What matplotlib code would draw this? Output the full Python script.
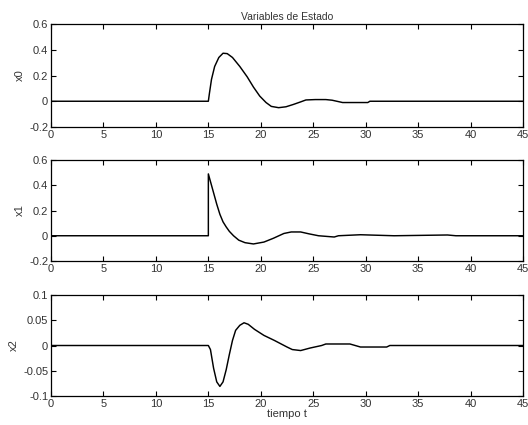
import matplotlib
matplotlib.use("Agg")
import matplotlib.pyplot as plt

# state variable x0
t_x0 = [0, 15, 15.1, 15.3, 15.6, 16.0, 16.4, 16.8, 17.3, 18.0, 18.7, 19.3, 19.9,
        20.5, 21.0, 21.7, 22.4, 23.1, 23.8, 24.3, 25.2, 26.2, 26.8, 27.8, 30.2, 30.4, 45]
x0 = [0, 0, 0.06, 0.17, 0.27, 0.34, 0.373, 0.37, 0.34, 0.27, 0.19, 0.11, 0.04,
      -0.01, -0.04, -0.05, -0.043, -0.025, -0.005, 0.01, 0.013, 0.013, 0.008, -0.01, -0.01, 0, 0]

# state variable x1
t_x1 = [0, 15, 15.0, 15.2, 15.5, 15.8, 16.1, 16.4, 16.7, 17.0, 17.4, 17.9, 18.5, 19.3,
        20.3, 21.2, 22.2, 22.9, 23.8, 24.6, 25.5, 27.0, 27.4, 29.5, 32.7, 37.8, 38.6, 45]
x1 = [0, 0, 0.49, 0.43, 0.34, 0.25, 0.17, 0.11, 0.07, 0.035, 0.0, -0.035, -0.055, -0.065,
      -0.05, -0.02, 0.018, 0.03, 0.03, 0.015, 0.0, -0.01, 0.0, 0.008, 0.0, 0.006, 0.0, 0]

# state variable x2
t_x2 = [0, 15, 15.2, 15.5, 15.8, 16.1, 16.4, 16.7, 17.0, 17.3, 17.6, 18.0, 18.4, 18.8,
        19.4, 20.3, 21.3, 22.5, 23.0, 23.8, 24.7, 25.8, 26.2, 28.5, 29.5, 32.0, 32.3, 45]
x2 = [0, 0, -0.008, -0.045, -0.072, -0.081, -0.072, -0.048, -0.018, 0.01, 0.03, 0.04, 0.045, 0.042,
      0.032, 0.02, 0.01, -0.003, -0.008, -0.01, -0.005, 0.0, 0.003, 0.003, -0.003, -0.003, 0.0, 0]

series = [(t_x0, x0, "x0", (-0.2, 0.6), [-0.2, 0, 0.2, 0.4, 0.6], ["-0.2", "0", "0.2", "0.4", "0.6"]),
          (t_x1, x1, "x1", (-0.2, 0.6), [-0.2, 0, 0.2, 0.4, 0.6], ["-0.2", "0", "0.2", "0.4", "0.6"]),
          (t_x2, x2, "x2", (-0.1, 0.1), [-0.1, -0.05, 0, 0.05, 0.1], ["-0.1", "-0.05", "0", "0.05", "0.1"])]
xticks = [0, 5, 10, 15, 20, 25, 30, 35, 40, 45]

plt.rcParams['font.family'] = ['Liberation Sans', 'DejaVu Sans']
plt.rcParams['font.size'] = 8
txt = '#333333'

fig = plt.figure(figsize=(5.28, 4.25), dpi=100)
boxes = [[0.0966, 0.7012, 0.894, 0.2423],
         [0.0966, 0.3859, 0.894, 0.2376],
         [0.0966, 0.0682, 0.894, 0.2377]]

for box, (t, y, name, ylim, yt, ytl) in zip(boxes, series):
    ax = fig.add_axes(box)
    ax.plot(t, y, color='black', linewidth=1.05)
    ax.set_xlim(0, 45)
    ax.set_ylim(*ylim)
    ax.set_xticks(xticks)
    ax.set_yticks(yt)
    ax.set_yticklabels(ytl)
    ax.tick_params(direction='in', top=True, right=True, length=3.5, width=0.8,
                   colors='black', labelcolor=txt, pad=2)
    for s in ax.spines.values():
        s.set_linewidth(0.9)
    ax.set_ylabel(name, color=txt, labelpad=3)
    if name == "x0":
        ax.set_title("Variables de Estado", fontsize=7.5, color=txt, pad=3)
    if name == "x2":
        ax.set_xlabel("tiempo t", color=txt, labelpad=0)

fig.savefig("out.png", dpi=100)
